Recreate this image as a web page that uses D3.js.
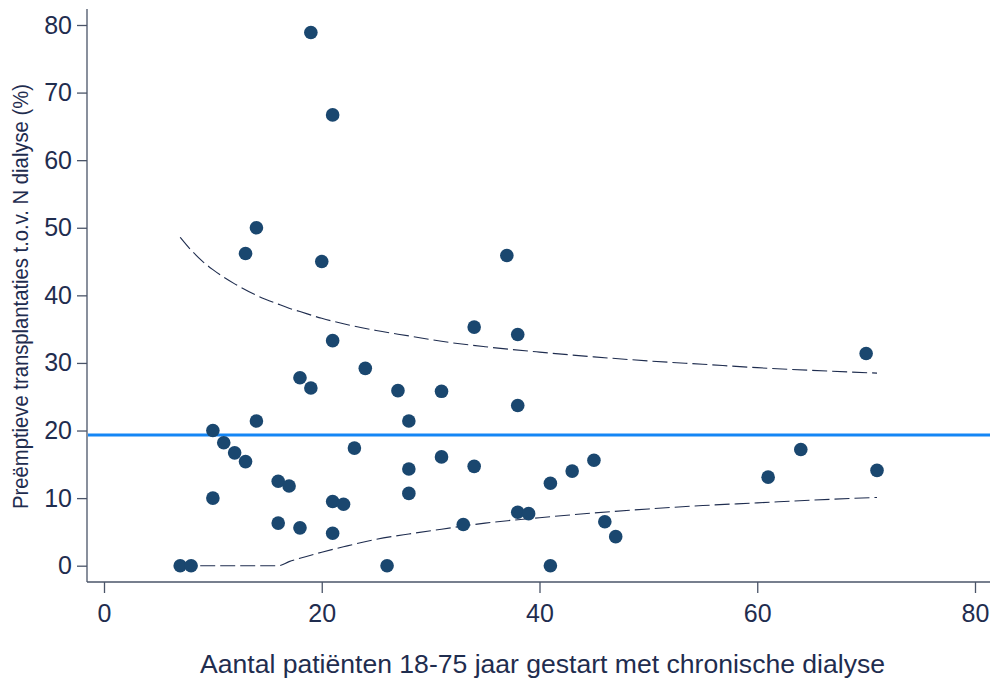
<!DOCTYPE html>
<html>
<head>
    <meta charset="utf-8">
    <title>Preëmptieve transplantaties</title>
    <script src="https://d3js.org/d3.v7.min.js"></script>
    <style>
        body { margin: 0; background: #fff; }
        text { font-family: "Liberation Sans", Arial, sans-serif; fill: #1f2d4f; }
    </style>
</head>
<body>
    <div id="chart"></div>

    <script>
        // centra: aantal patienten (x) en % preemptief (y)
        const nPatients = [19, 21, 14, 13, 20, 37, 34, 38, 21, 70,
                           18, 19, 24, 27, 31, 38, 28, 14, 10, 11,
                           12, 13, 23, 31, 34, 28, 41, 43, 45, 61,
                           64, 71, 16, 17, 10, 21, 22, 28, 16, 18,
                           21, 33, 38, 39, 46, 47, 7, 8, 26, 41];
        const pctPreemptive = [78.9, 66.7, 50.0, 46.2, 45.0, 45.9, 35.3, 34.2, 33.3, 31.4,
                               27.8, 26.3, 29.2, 25.9, 25.8, 23.7, 21.4, 21.4, 20.0, 18.2,
                               16.7, 15.4, 17.4, 16.1, 14.7, 14.3, 12.2, 14.0, 15.6, 13.1,
                               17.2, 14.1, 12.5, 11.8, 10.0, 9.5, 9.1, 10.7, 6.3, 5.6,
                               4.8, 6.1, 7.9, 7.7, 6.5, 4.3, 0, 0, 0, 0];

        // landelijk gemiddelde
        const meanPct = 19.33;

        const funnelN     = [7, 8, 9, 10, 12, 14, 16, 17, 18, 20, 22, 25, 28, 31, 35, 40, 45, 50, 55, 60, 65, 71];
        const funnelUpper = [48.6, 46.7, 45.1, 43.8, 41.7, 40.0, 38.7, 38.1, 37.6, 36.6, 35.8, 34.8, 34.0, 33.2, 32.4, 31.6, 30.9, 30.3, 29.8, 29.3, 28.9, 28.5];
        const funnelLower = [0, 0, 0, 0, 0, 0, 0, 0.6, 1.1, 2.0, 2.8, 3.9, 4.7, 5.4, 6.3, 7.1, 7.8, 8.4, 8.9, 9.3, 9.7, 10.1];

        const xTicks = [0, 20, 40, 60, 80];
        const yTicks = [0, 10, 20, 30, 40, 50, 60, 70, 80];

        const width = 993, height = 682;
        const svg = d3.select("#chart")
            .append("svg")
            .attr("width", width)
            .attr("height", height);

        const x = d3.scaleLinear().domain([0, 80]).range([104, 975]);
        const y = d3.scaleLinear().domain([0, 80]).range([565.7, 25]);

        const left = 87, bottom = 582;

        // assen
        const xAxis = svg.append("g")
            .attr("transform", `translate(0,${bottom})`)
            .call(d3.axisBottom(x).tickValues(xTicks).tickSize(11).tickPadding(11));
        xAxis.select(".domain").attr("d", `M${left},0H990`);

        const yAxis = svg.append("g")
            .attr("transform", `translate(${left},0)`)
            .call(d3.axisLeft(y).tickValues(yTicks).tickSize(10).tickPadding(5));
        yAxis.select(".domain").attr("d", `M0,9V${bottom}`);

        svg.selectAll(".domain, .tick line")
            .attr("stroke", "#4a5468")
            .attr("stroke-width", 1.3);
        svg.selectAll(".tick text")
            .style("font-size", "25px")
            .attr("fill", "#1f2d4f");

        // gemiddelde lijn
        svg.append("line")
            .attr("x1", left + 1).attr("x2", 990)
            .attr("y1", y(meanPct)).attr("y2", y(meanPct))
            .attr("stroke", "#1486f5")
            .attr("stroke-width", 3);

        // funnel
        const funnelLine = vals => d3.line()
            .x((d, i) => x(funnelN[i]))
            .y(d => y(d))
            .curve(d3.curveMonotoneX)(vals);

        [funnelUpper, funnelLower].forEach(vals => {
            svg.append("path")
                .attr("d", funnelLine(vals))
                .attr("fill", "none")
                .attr("stroke", "#1f2d4f")
                .attr("stroke-width", 1.1)
                .attr("stroke-dasharray", "15,5");
        });

        // punten
        svg.selectAll(".dot")
            .data(nPatients)
            .enter().append("circle")
            .attr("class", "dot")
            .attr("cx", d => x(d))
            .attr("cy", (d, i) => y(pctPreemptive[i]))
            .attr("r", 6.8)
            .attr("fill", "#1a476f");

        // titels
        svg.append("text")
            .attr("x", 200)
            .attr("y", 673)
            .attr("textLength", 685)
            .attr("lengthAdjust", "spacingAndGlyphs")
            .style("font-size", "26px")
            .text("Aantal patiënten 18-75 jaar gestart met chronische dialyse");

        svg.append("text")
            .attr("transform", "translate(28,297) rotate(-90)")
            .attr("x", -212)
            .attr("textLength", 425)
            .attr("lengthAdjust", "spacingAndGlyphs")
            .style("font-size", "22.5px")
            .text("Preëmptieve transplantaties t.o.v. N dialyse (%)");
    </script>
</body>
</html>
